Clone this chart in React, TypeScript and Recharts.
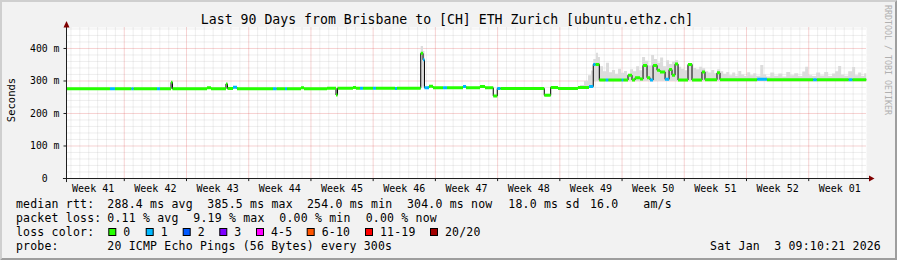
import React from 'react';
import {
  ComposedChart,
  Line,
  Area,
  XAxis,
  YAxis,
  CartesianGrid,
  ReferenceLine,
  ReferenceDot,
} from 'recharts';

const MONO = '"DejaVu Sans Mono", "Liberation Mono", monospace';
const AXIS = '#1f1f1f';
const YMAX = 464.6;

// x is days since the left edge of the 90 day window
const weekLabels = ['Week 41', 'Week 42', 'Week 43', 'Week 44', 'Week 45', 'Week 46', 'Week 47',
  'Week 48', 'Week 49', 'Week 50', 'Week 51', 'Week 52', 'Week 01'];
const weekMid = [3, 10, 17, 24, 31, 38, 45, 52, 59, 66, 73, 80, 87];
const weekStart = [6.5, 13.5, 20.5, 27.5, 34.5, 41.5, 48.5, 55.5, 62.5, 69.5, 76.5, 83.5];
const yTicks = [0, 100, 200, 300, 400];
const yTickLabels = ['0  ', '100 m', '200 m', '300 m', '400 m'];

const lossLabels = ['0', '1', '2', '3', '4-5', '6-10', '11-19', '20/20'];
const lossColors = ['#26ff00', '#00b8ff', '#0059ff', '#7e00ff', '#ff00ff', '#ff5500', '#ff0000', '#a10000'];

// median rtt as steps: start day, value in ms, loss bucket
const runDay = [0, 4.89, 5.46, 7.31, 7.54, 10.18, 10.52, 11.76, 11.92, 15.81, 16.26, 17.94, 18.11,
  18.73, 19.18, 23.23, 23.62, 24.58, 24.81, 26.38, 26.72, 29.31, 30.32, 30.49, 32.23, 32.57, 33.02,
  33.36, 34.48, 34.82, 36.96, 37.18, 39.85, 40.11, 40.27, 40.78, 41.23, 42.36, 42.81, 44.61, 44.95,
  46.52, 47.08, 48.01, 48.46, 48.8, 53.75, 54.47, 55.3, 57.54, 58.78, 59.26, 59.5, 59.94, 60.66,
  60.95, 62.46, 62.64, 63.17, 63.62, 63.96, 64.52, 64.86, 65.31, 65.65, 65.99, 66.44, 66.77, 67.34,
  67.79, 68.12, 68.46, 68.8, 69.92, 70.37, 71.49, 71.83, 73.18, 73.52, 77.7, 78.8, 84.0, 84.4, 88.0, 88.4];
const runMs = [276, 276, 276, 276, 276, 276, 276, 296, 276, 279, 276, 291, 277,
  281, 276, 276, 276, 276, 276, 279, 276, 278, 257, 278, 280, 278, 278,
  278, 278, 278, 277, 278, 385, 365, 279, 284, 279, 279, 279, 283, 279,
  283, 279, 254, 277, 277, 256, 280, 277, 280, 283, 351, 351, 303, 303,
  303, 303, 303, 318, 303, 310, 306, 348, 310, 303, 348, 333, 328, 305,
  335, 318, 352, 303, 351, 303, 328, 304, 325, 304, 305, 304, 304, 304, 304, 304];
const runLoss = [0, 1, 0, 1, 0, 1, 0, 0, 0, 0, 0, 0, 0,
  1, 0, 1, 0, 1, 0, 0, 0, 0, 0, 0, 0, 0, 1,
  0, 1, 0, 1, 0, 0, 1, 1, 0, 0, 1, 0, 1, 0,
  0, 0, 0, 1, 0, 0, 0, 0, 0, 1, 1, 0, 0, 1,
  0, 1, 0, 0, 0, 0, 0, 0, 0, 1, 0, 0, 0, 1,
  0, 0, 0, 0, 0, 0, 0, 0, 0, 0, 1, 0, 1, 0, 1, 0];

// smoke: spread of the pings around the median
const smokeDay = [39.7, 39.85, 40.11, 40.27, 57.77, 58.22, 58.67, 59.0, 59.26, 59.57, 59.79, 60.02,
  60.36, 60.69, 61.03, 61.37, 61.71, 62.05, 62.39, 62.72, 63.06, 63.4, 63.74, 64.08, 64.41, 64.75,
  65.09, 65.43, 65.77, 66.1, 66.44, 66.78, 67.12, 67.46, 67.79, 68.13, 68.47, 68.81, 69.15, 69.49,
  69.82, 70.16, 70.5, 70.84, 71.18, 71.51, 71.85, 72.19, 72.53, 72.87, 73.2, 73.54, 73.88, 74.22,
  74.56, 74.89, 75.23, 75.57, 75.91, 76.25, 76.58, 76.92, 77.26, 77.6, 78.05, 78.39, 78.72, 79.17,
  79.62, 80.07, 80.52, 80.97, 81.42, 81.87, 82.32, 82.77, 83.1, 83.44, 83.89, 84.34, 84.79, 85.24,
  85.69, 86.13, 86.47, 86.81, 87.15, 87.49, 87.94, 88.39, 88.72, 89.06, 89.4, 89.74, 90];
const smokeLow = [278, 282, 282, 278, 279, 279, 280, 282, 300, 300, 300, 300,
  300, 300, 300, 300, 300, 300, 300, 300, 300, 300, 300, 300, 300, 300,
  300, 300, 300, 300, 300, 300, 300, 300, 300, 300, 300, 300, 300, 300,
  300, 300, 300, 300, 300, 300, 300, 300, 300, 300, 300, 300, 300, 300,
  300, 300, 300, 300, 300, 300, 300, 300, 300, 300, 300, 300, 300, 300,
  300, 300, 300, 300, 300, 300, 300, 300, 300, 300, 300, 300, 300, 300,
  300, 300, 300, 300, 300, 300, 300, 300, 300, 300, 300, 300, 300];
const smokeHigh = [278, 408, 392, 278, 288, 300, 318, 332, 368, 387, 374, 345,
  330, 356, 327, 334, 322, 338, 325, 331, 320, 336, 330, 345, 333, 374,
  362, 348, 380, 368, 356, 372, 345, 364, 352, 360, 364, 344, 338, 333,
  348, 354, 340, 336, 344, 339, 330, 326, 334, 324, 336, 330, 322, 328,
  318, 326, 316, 331, 320, 315, 327, 318, 324, 316, 349, 320, 314, 326,
  316, 323, 314, 328, 318, 324, 315, 329, 344, 318, 315, 326, 317, 328,
  315, 323, 330, 346, 319, 316, 330, 343, 318, 326, 315, 324, 324];

const legendRows = [
  [['median rtt:', 16], ['288.4 ms avg', 107.3], ['385.5 ms max', 207.3], ['254.0 ms min', 307],
    ['304.0 ms now', 407], ['18.0 ms sd', 508.3], ['16.0', 590], ['am/s', 643.3]],
  [['packet loss:', 16], ['0.11 % avg', 107.3], ['9.19 % max', 193.3], ['0.00 % min', 279.3],
    ['0.00 % now', 365.7]],
  [['loss color:', 16]],
  [['probe:', 16], ['20 ICMP Echo Pings (56 Bytes) every 300s', 107.3]],
] as [string, number][][];
const rowY = [207.5, 221.5, 235.5, 249.5];
const swatchX = [108.3, 145.7, 182.7, 219.3, 256, 306.7, 365, 430];

const medianData = runDay
  .map((d, i) => ({ d, v: runMs[i] }))
  .concat([{ d: 90, v: runMs[runMs.length - 1] }]);

const bandData = lossColors.map((_, k) => {
  const pts: { d: number; v: number | null }[] = [];
  runDay.forEach((d, i) => {
    if (runLoss[i] !== k) return;
    const end = i + 1 < runDay.length ? runDay[i + 1] : 90;
    pts.push({ d, v: runMs[i] }, { d: end, v: runMs[i] }, { d: end, v: null });
  });
  return pts;
});

const smokeData = smokeDay.map((d, i) => ({ d, r: [smokeLow[i], smokeHigh[i]] }));

const dayLines: number[] = [];
for (let d = 0.5; d < 90; d += 1) if (!weekStart.includes(d)) dayLines.push(d);
const msLines: number[] = [];
for (let v = 20; v < YMAX; v += 20) if (v % 100) msLines.push(v);
const msMajor = [100, 200, 300, 400];

const WeekTick = (p: any) => (
  <text x={p.x} y={191.5} textAnchor="middle" fontFamily={MONO} fontSize={10} fill="#000">
    {weekLabels[weekMid.indexOf(p.payload.value)]}
  </text>
);

const MsTick = (p: any) => (
  <text x={p.x - 2} y={p.y + 3.5} textAnchor="end" fontFamily={MONO} fontSize={9.8} fill="#000"
    style={{ whiteSpace: 'pre' }}>
    {yTickLabels[yTicks.indexOf(p.payload.value)]}
  </text>
);

export default function App() {
  return (
    <div style={{ position: 'absolute', left: 0, top: 0, width: 897, height: 260, background: '#f2f2f2', overflow: 'hidden' }}>
      <ComposedChart width={897} height={260} margin={{ top: 27.5, right: 30.5, bottom: 0, left: 0 }}>
        <XAxis type="number" dataKey="d" domain={[0, 90]} ticks={weekMid} interval={0} height={81.5}
          axisLine={false} tickLine={false} tick={WeekTick} allowDataOverflow />
        <YAxis type="number" domain={[0, YMAX]} ticks={yTicks} interval={0} width={66.5} tickSize={3}
          tickLine={{ stroke: AXIS }} axisLine={false} tick={MsTick} allowDataOverflow />
        <CartesianGrid fill="#ffffff" stroke="#c0c0c0" strokeOpacity={0.5} strokeDasharray="1 1"
          verticalValues={dayLines} horizontalValues={msLines} />
        <CartesianGrid stroke="#e05050" strokeOpacity={0.5} strokeDasharray="1 1"
          verticalValues={weekStart} horizontalValues={msMajor} />

        <Area data={smokeData} dataKey="r" type="stepAfter" stroke="none"
          fill="#dcdcdc" fillOpacity={1} isAnimationActive={false} />
        <Line data={medianData} dataKey="v" type="stepAfter" stroke="#000"
          strokeWidth={1} dot={false} activeDot={false} isAnimationActive={false} />
        {bandData.map((pts, k) =>
          pts.length ? (
            <Line key={k} data={pts} dataKey="v" type="linear" stroke={lossColors[k]}
              strokeWidth={3} dot={false} activeDot={false} connectNulls={false} isAnimationActive={false} />
          ) : null
        )}

        <ReferenceLine segment={[{ x: -0.4, y: 0 }, { x: 90.4, y: 0 }]} stroke={AXIS} ifOverflow="visible" />
        <ReferenceLine segment={[{ x: 0, y: -11 }, { x: 0, y: 470 }]} stroke={AXIS} ifOverflow="visible" />
        {weekStart.map((d) => (
          <ReferenceLine key={d} segment={[{ x: d, y: 0 }, { x: d, y: -8 }]} stroke={AXIS} ifOverflow="visible" />
        ))}
        <ReferenceDot x={90} y={0} ifOverflow="visible"
          shape={(p: any) => (
            <polygon points={`${p.cx + 2.5},${p.cy - 3} ${p.cx + 8},${p.cy} ${p.cx + 2.5},${p.cy + 3}`} fill="#800000" />
          )} />
        <ReferenceDot x={0} y={YMAX} ifOverflow="visible"
          shape={(p: any) => (
            <polygon points={`${p.cx - 3},${p.cy} ${p.cx},${p.cy - 6.5} ${p.cx + 3},${p.cy}`} fill="#800000" />
          )} />
      </ComposedChart>

      <svg width={897} height={260} style={{ position: 'absolute', left: 0, top: 0, pointerEvents: 'none' }}>
        <polygon points="0,0 897,0 895,2 2,2 2,258 0,260" fill="#cfcfcf" />
        <polygon points="897,260 0,260 2,258 895,258 895,2 897,0" fill="#9e9e9e" />
        <text x={447} y={24} textAnchor="middle" fontFamily={MONO} fontSize={13.2} fill="#000" style={{ whiteSpace: 'pre' }}>
          Last 90 Days from Brisbane to [CH] ETH Zurich [ubuntu.ethz.ch]
        </text>
        <text transform="translate(15,100) rotate(-90)" textAnchor="middle" fontFamily={MONO} fontSize={10.5} fill="#000">
          Seconds
        </text>
        <text transform="translate(884.5,60) rotate(90)" textAnchor="middle" fontFamily={MONO} fontSize={8.3} fill="#b0b0b0">
          RRDTOOL / TOBI OETIKER
        </text>
        {legendRows.map((row, r) =>
          row.map(([s, x], j) => (
            <text key={`${r}-${j}`} x={x} y={rowY[r]} fontFamily={MONO} fontSize={11.5} letterSpacing={0.2}
              fill="#000" style={{ whiteSpace: 'pre' }}>
              {s}
            </text>
          ))
        )}
        {lossLabels.map((lab, k) => (
          <g key={lab}>
            <rect x={swatchX[k] + 0.5} y={228.5} width={7} height={7} fill={lossColors[k]} stroke="#000" strokeWidth={1} />
            <text x={swatchX[k] + 15} y={rowY[2]} fontFamily={MONO} fontSize={11.5} letterSpacing={0.2} fill="#000">
              {lab}
            </text>
          </g>
        ))}
        <text x={881} y={rowY[3]} textAnchor="end" fontFamily={MONO} fontSize={11.5} letterSpacing={0.2} fill="#000"
          style={{ whiteSpace: 'pre' }}>
          Sat Jan  3 09:10:21 2026
        </text>
      </svg>
    </div>
  );
}
